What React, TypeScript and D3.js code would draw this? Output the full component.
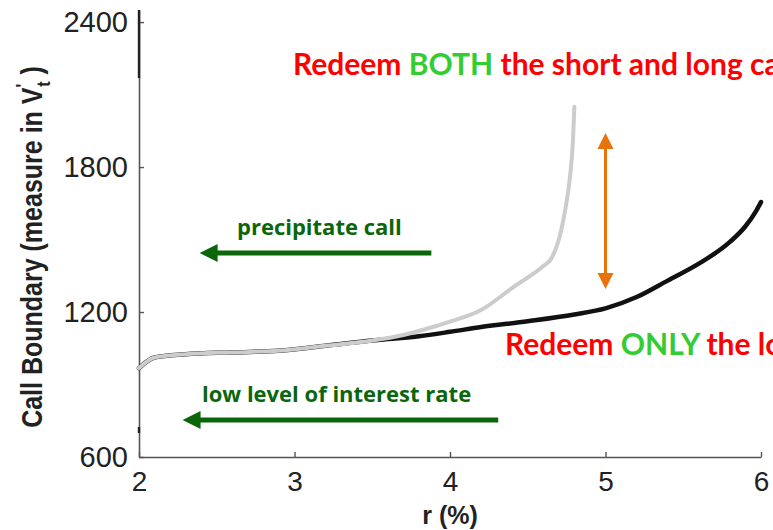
import React, { useEffect, useRef } from "react";
import * as d3 from "d3";

// r (%) vs call boundary — short+long (grey) and long only (black)
const rGrey = [2.0, 2.05, 2.1, 2.3, 2.6, 2.9, 3.2, 3.5, 3.7, 3.9, 4.0, 4.2, 4.4, 4.6, 4.65, 4.7, 4.74, 4.77, 4.79, 4.8];
const vGrey = [968, 995, 1012, 1025, 1033, 1040, 1060, 1082, 1105, 1140, 1160, 1208, 1300, 1390, 1420, 1500, 1620, 1750, 1900, 2050];
const rBlack = [2.0, 2.05, 2.1, 2.3, 2.6, 2.9, 3.2, 3.5, 3.6, 3.8, 4.0, 4.2, 4.5, 4.8, 5.0, 5.2, 5.4, 5.6, 5.8, 5.9, 5.97, 6.0];
const vBlack = [968, 995, 1012, 1025, 1033, 1040, 1060, 1082, 1088, 1100, 1118, 1138, 1162, 1190, 1215, 1262, 1330, 1400, 1490, 1555, 1620, 1655];
const xTicks = [2, 3, 4, 5, 6];
const yTicks = [600, 1200, 1800, 2400];

const W = 773;
const H = 530;
const x = d3.scaleLinear().domain([2, 6]).range([139, 761]);
const y = d3.scaleLinear().domain([600, 2450]).range([457, 10]);

const GREEN_DARK = "#0b660b";
const RED = "#ff0000";
const GREEN = "#33cc33";
const ORANGE = "#e8730c";

export default function App() {
  const xAxisRef = useRef<SVGGElement>(null);
  const yAxisRef = useRef<SVGGElement>(null);

  useEffect(() => {
    const gx = d3.select(xAxisRef.current!);
    gx.call(
      d3.axisBottom(x).tickValues(xTicks).tickFormat(d3.format("d")).tickSizeInner(-5).tickSizeOuter(0).tickPadding(14)
    );
    gx.select(".domain").attr("stroke", "#555").attr("stroke-width", 1.6);
    gx.selectAll(".tick line").attr("stroke", "#555").attr("stroke-width", 1.4);
    gx.selectAll(".tick text")
      .attr("font-family", "'Liberation Sans', Arial, sans-serif")
      .attr("font-size", 28)
      .attr("fill", "#222");

    const gy = d3.select(yAxisRef.current!);
    gy.call(
      d3.axisLeft(y).tickValues(yTicks).tickFormat(d3.format("d")).tickSizeInner(-5).tickSizeOuter(0).tickPadding(11)
    );
    gy.select(".domain").attr("stroke", "#555").attr("stroke-width", 1.6);
    gy.selectAll(".tick line").attr("stroke", "#555").attr("stroke-width", 1.4);
    gy.selectAll(".tick text")
      .attr("font-family", "'Liberation Sans', Arial, sans-serif")
      .attr("font-size", 29)
      .attr("fill", "#222");
  }, []);

  const line = d3
    .line<[number, number]>()
    .x((d) => x(d[0]))
    .y((d) => y(d[1]))
    .curve(d3.curveMonotoneX);

  const greyPts = rGrey.map((r, i) => [r, vGrey[i]] as [number, number]);
  const blackPts = rBlack.map((r, i) => [r, vBlack[i]] as [number, number]);

  // annotation arrows in data coordinates
  const orangeX = x(5.0);
  const orangeTop = y(1941);
  const orangeBot = y(1295);
  const precY = y(1444);
  const precX1 = x(3.88);
  const precX0 = x(2.39);
  const lowY = y(753);
  const lowX1 = x(4.31);
  const lowX0 = x(2.28);

  const leftArrow = (x0: number, x1: number, yy: number, color: string) => (
    <g>
      <line x1={x1} x2={x0 + 16} y1={yy} y2={yy} stroke={color} strokeWidth={5} />
      <polygon points={`${x0},${yy} ${x0 + 18},${yy - 9} ${x0 + 18},${yy + 9}`} fill={color} />
    </g>
  );

  const redFont = "Lato, 'Open Sans', sans-serif";
  const greenFont = "'Open Sans', Lato, sans-serif";

  return (
    <div style={{ position: "absolute", left: 0, top: 0 }}>
      <svg width={W} height={H} style={{ display: "block", background: "#fff" }}>
        <rect width={W} height={H} fill="#fff" />
        <g ref={xAxisRef} transform={`translate(0,${y(600)})`} />
        <g ref={yAxisRef} transform={`translate(${x(2)},0)`} />
        {/* darker artefact segments on the y axis */}
        <line x1={x(2)} x2={x(2)} y1={10} y2={78} stroke="#222" strokeWidth={2.4} />
        <line x1={x(2)} x2={x(2)} y1={427} y2={433} stroke="#222" strokeWidth={2.4} />

        <path d={line(blackPts)!} fill="none" stroke="#111" strokeWidth={4.5} strokeLinecap="round" />
        <path d={line(greyPts)!} fill="none" stroke="#cccccc" strokeWidth={4} strokeLinecap="round" />

        {/* orange double arrow */}
        <line x1={orangeX} x2={orangeX} y1={orangeTop + 14} y2={orangeBot - 14} stroke={ORANGE} strokeWidth={3} />
        <polygon points={`${orangeX},${orangeTop} ${orangeX - 8},${orangeTop + 16} ${orangeX + 8},${orangeTop + 16}`} fill={ORANGE} />
        <polygon points={`${orangeX},${orangeBot} ${orangeX - 8},${orangeBot - 16} ${orangeX + 8},${orangeBot - 16}`} fill={ORANGE} />

        {leftArrow(precX0, precX1, precY, GREEN_DARK)}
        {leftArrow(lowX0, lowX1, lowY, GREEN_DARK)}

        <text x={237} y={235} fontFamily={greenFont} fontWeight="bold" fontSize={22} fill={GREEN_DARK}>
          precipitate call
        </text>
        <text x={202} y={402} fontFamily={greenFont} fontWeight="bold" fontSize={22} fill={GREEN_DARK}>
          low level of interest rate
        </text>

        <text x={293} y={75} fontFamily={redFont} fontWeight="bold" fontSize={30} fill={RED}>
          <tspan>Redeem </tspan>
          <tspan fill={GREEN}>BOTH</tspan>
          <tspan> the short and long calls</tspan>
        </text>
        <text x={505} y={355} fontFamily={redFont} fontWeight="bold" fontSize={30} fill={RED}>
          <tspan>Redeem </tspan>
          <tspan fill={GREEN}>ONLY</tspan>
          <tspan> the long call</tspan>
        </text>

        <text
          x={450}
          y={524}
          textAnchor="middle"
          fontFamily="'Liberation Sans', Arial, sans-serif"
          fontWeight="bold"
          fontSize={25}
          fill="#222"
        >
          r (%)
        </text>

        <text
          transform="translate(42,247) scale(1.2,1) rotate(-90)"
          textAnchor="middle"
          fontFamily="'Liberation Sans', Arial, sans-serif"
          fontWeight="bold"
          fontSize={25}
          fill="#222"
        >
          <tspan>Call Boundary (measure in V</tspan>
          <tspan dy={-11} fontSize={16}>'</tspan>
          <tspan dx={-3} dy={18} fontSize={16}>t</tspan>
          <tspan dy={-7}> )</tspan>
        </text>
      </svg>
    </div>
  );
}
